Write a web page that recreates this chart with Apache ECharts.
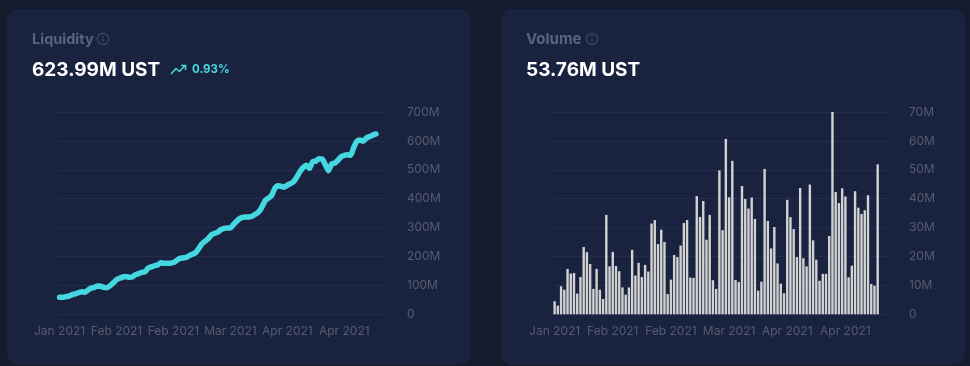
<!DOCTYPE html>
<html><head><meta charset="utf-8">
<style>html,body{margin:0;padding:0;background:#131b2d}#c{width:970px;height:366px}</style>
<script src="https://cdn.jsdelivr.net/npm/echarts@6/dist/echarts.min.js"></script>
</head><body><div id="c"></div>
<script>
const tickLabels = ['Jan 2021','Feb 2021','Feb 2021','Mar 2021','Apr 2021','Apr 2021'];
const liquidity = [58.6,58.6,61,63,68,71,75,78,76,84,91,93,98,97,93,92,99,109,120,125,129,131,128,129,137,141,145,147,160,164,168,171,178,177,177,177,179,186,193,195,197,203,208,213,228,244,253,262,275,280,284,293,297,299,299,311,322,332,336,337,337,340,347,355,372,393,402,410,435,445,443,440,447,452,459,475,494,508,516,505,528,530,538,537,518,497,520,523,533,545,550,552,550,578,599,603,599,610,615,620,624];
const volume = [4.5,3.0,9.7,8.5,15.7,14.1,14.3,7.2,12.9,23.3,21.5,17.4,8.8,15.7,8.5,5.3,34.4,16.6,21.6,16.7,14.9,9.3,6.8,9.3,22.3,13.4,17.8,12.9,17.1,14.8,31.4,32.6,24.3,29.3,25,7,12,20.5,19.8,23.8,31.6,32.6,12.7,12.6,40.9,33.7,39.2,25.8,34.4,11.8,8.8,49.8,29.1,60.7,40.5,53.1,11.9,11.2,44.4,39.9,36.6,40.4,33,8.2,11.3,50.3,32.3,22.8,30.2,17.6,10.6,7.3,39.6,33.6,29.5,19.8,43.7,19.4,16.6,44.9,25.6,18.9,11.6,14,14,27.1,70,42.3,38.5,43.6,40.8,12.8,16.8,42.6,36.9,34.7,36,41.2,10.5,9.9,51.9];
const slotCount = 104, labelStep = 18;
const categories = Array.from({length: slotCount}, (_, i) => i % labelStep === 0 && i / labelStep < tickLabels.length ? tickLabels[i / labelStep] : '');
const FONT = 'Inter', AXIS = '#565c70', GRID = '#242e4c', MUTED = '#5b637c', CYAN = '#45d8e0';

const xAxisFor = gridIndex => ({
  type:'category', gridIndex, data:categories, boundaryGap:true,
  axisLine:{show:false}, axisTick:{show:false}, splitLine:{show:false},
  axisLabel:{interval:0, color:AXIS, fontFamily:FONT, fontSize:12, margin:11, hideOverlap:false}
});
const yAxisFor = (gridIndex, max, interval, fmt) => ({
  type:'value', gridIndex, min:0, max, interval, position:'right',
  axisLine:{show:false}, axisTick:{show:false},
  splitLine:{lineStyle:{color:GRID, width:1}},
  axisLabel:{color:AXIS, fontFamily:FONT, fontSize:12, margin:20, formatter:fmt}
});
const infoIcon = (cx, cy) => [
  {type:'circle', shape:{cx, cy, r:5.7}, style:{fill:'none', stroke:'#3e4660', lineWidth:1.2}},
  {type:'rect', shape:{x:cx-0.6, y:cy-1, width:1.2, height:4}, style:{fill:'#3e4660'}},
  {type:'rect', shape:{x:cx-0.6, y:cy-3.2, width:1.2, height:1.2}, style:{fill:'#3e4660'}}
];
const txt = (x, y, text, fontSize, fontWeight, fill) => ({type:'text', x, y, style:{text, fontFamily:FONT, fontSize, fontWeight, fill, textVerticalAlign:'middle'}});

const chart = echarts.init(document.getElementById('c'), null, {renderer:'canvas'});
chart.setOption({
  backgroundColor:'#131b2d', animation:false,
  grid:[{left:58, top:112, width:329, height:202.3, containLabel:false},
        {left:553, top:112, width:336, height:202.3, containLabel:false}],
  xAxis:[xAxisFor(0), xAxisFor(1)],
  yAxis:[yAxisFor(0,700,100,v=>v===0?'0':v+'M'), yAxisFor(1,70,10,v=>v===0?'0':v+'M')],
  series:[
    {type:'line', xAxisIndex:0, yAxisIndex:0, data:liquidity, showSymbol:false, symbol:'none', smooth:0.2,
     lineStyle:{color:CYAN, width:5.5, cap:'round', join:'round'}},
    {type:'bar', xAxisIndex:1, yAxisIndex:1, data:volume, barWidth:2.4, itemStyle:{color:'#d2d2d2'}}
  ],
  graphic:[
    {type:'group', silent:true, z:-1, children:[
      {type:'rect', z:-10, shape:{x:7,y:9,width:464,height:356,r:11}, style:{fill:'#19233f'}},
      {type:'rect', z:-10, shape:{x:501,y:9,width:464,height:356,r:11}, style:{fill:'#19233f'}}
    ]},
    {type:'group', silent:true, children:[
      txt(32,39.5,'Liquidity',14.5,700,MUTED),
      ...infoIcon(103,39),
      txt(32,70,'623.99M UST',19,700,'#ffffff'),
      {type:'polyline', shape:{points:[[171,74],[176,68.5],[179.5,71.5],[185,65.5]]}, style:{fill:'none', stroke:CYAN, lineWidth:1.6}},
      {type:'polyline', shape:{points:[[181,65.5],[185.5,65.5],[185.5,70]]}, style:{fill:'none', stroke:CYAN, lineWidth:1.6}},
      txt(192,70,'0.93%',11.5,700,CYAN),
      txt(526,39.5,'Volume',15,700,MUTED),
      ...infoIcon(592,39),
      txt(526,70,'53.76M UST',19,700,'#ffffff')
    ]}
  ]
});
</script></body></html>
